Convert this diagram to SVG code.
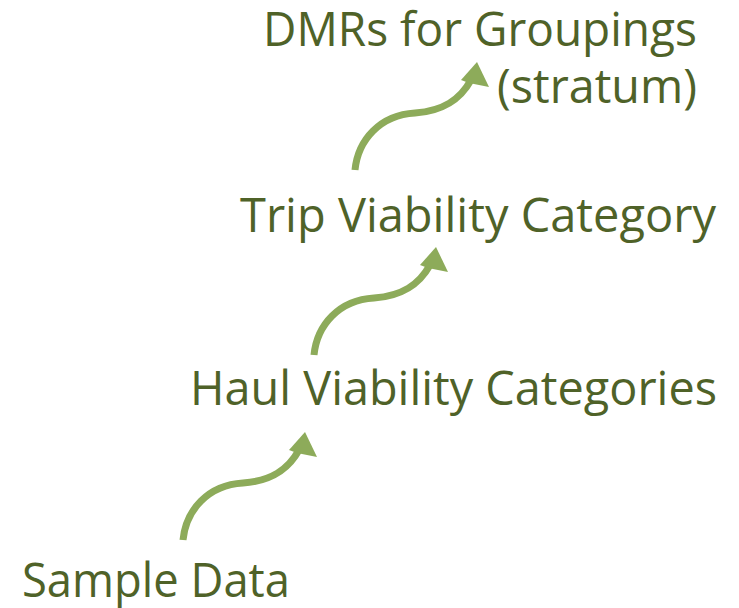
<svg xmlns="http://www.w3.org/2000/svg" xmlns:xlink="http://www.w3.org/1999/xlink" width="739" height="608" viewBox="0 0 739 608">
<style>
.lbl{font-family:"Open Sans","Noto Sans","Liberation Sans",sans-serif;font-size:47px;fill:#4F6228}
.shaft{fill:none;stroke:#8DAB5A;stroke-width:7;stroke-linecap:butt}
.head{fill:#8DAB5A}
</style>
<defs>
<g id="arrowShape">
<path class="shaft" d="M0,0 C3,-30 25,-55 60,-57 C88,-59 105,-70 116,-90"/>
<polygon class="head" points="122,-108 106,-90 114,-87 134,-83"/>
</g>
</defs>
<rect width="739" height="608" fill="#FFFFFF"/>
<g id="connectors">
<use id="arrow1" xlink:href="#arrowShape" transform="translate(183,540)"/>
<use id="arrow2" xlink:href="#arrowShape" transform="translate(314,355)"/>
<use id="arrow3" xlink:href="#arrowShape" transform="translate(355,170)"/>
</g>
<g id="node-sample"><text class="lbl" x="22" y="597" textLength="268" lengthAdjust="spacingAndGlyphs">Sample Data</text></g>
<g id="node-haul"><text class="lbl" x="190" y="405" textLength="527" lengthAdjust="spacingAndGlyphs">Haul Viability Categories</text></g>
<g id="node-trip"><text class="lbl" x="240" y="232" textLength="476" lengthAdjust="spacingAndGlyphs">Trip Viability Category</text></g>
<g id="node-dmr"><text class="lbl" x="263" y="46" textLength="434" lengthAdjust="spacingAndGlyphs">DMRs for Groupings</text><text class="lbl" x="497" y="103" textLength="200" lengthAdjust="spacingAndGlyphs">(stratum)</text></g>
</svg>
